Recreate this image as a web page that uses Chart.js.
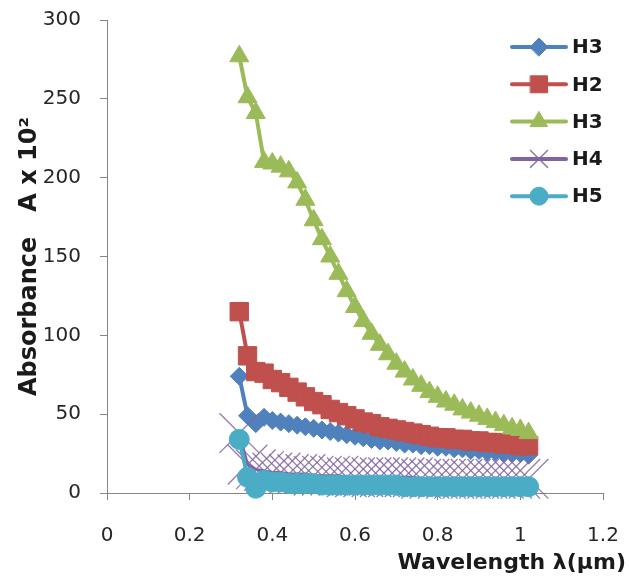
<!DOCTYPE html>
<html><head><meta charset="utf-8">
<script src="https://cdn.jsdelivr.net/npm/chart.js@4.4.0/dist/chart.umd.min.js"></script>
<style>html,body{margin:0;padding:0;background:#fff;}#wrap{width:629px;height:576px;}</style>
</head><body><div id="wrap"><canvas id="c" width="629" height="576"></canvas></div>
<script>
const wavelength = [0.32,0.34,0.36,0.38,0.40,0.42,0.44,0.46,0.48,0.50,0.52,0.54,0.56,0.58,0.60,0.62,0.64,0.66,0.68,0.70,0.72,0.74,0.76,0.78,0.80,0.82,0.84,0.86,0.88,0.90,0.92,0.94,0.96,0.98,1.00,1.02];
const h3a = [74,49,44,48,46,45,44,43,42,41,40,39,38,37,36,35,34,33,33,32,31,31,30,30,29,29,28,28,27,27,26,26,25,25,25,24];
const h2  = [115,87,77,76,72,70,67,64,61,58,56,53,51,49,47,45,44,42,41,40,39,38,37,36,35,35,34,34,33,33,32,32,31,31,30,30];
const h3b = [277,251,241,210,209,207,204,197,186,173,161,150,139,128,118,109,101,94,88,82,77,72,68,64,61,58,56,53,51,49,47,45,43,41,40,38];
const h4  = [38,18,15,14,13,13,12,12,12,11,11,11,11,10,10,10,10,10,10,10,10,10,9,9,9,9,9,9,9,9,9,9,9,9,9,9];
const h5  = [34,10,3,8,7,7,6,6,6,6,5,5,5,5,5,5,5,5,5,5,4,4,4,4,4,4,4,4,4,4,4,4,4,4,4,4];
const seriesNames = ['H3','H2','H3','H4','H5'];
const xTickLabels = ['0','0.2','0.4','0.6','0.8','1','1.2'];
const yTickLabels = ['0','50','100','150','200','250','300'];
const xTitle = 'Wavelength λ(µm)';
const yTitle = 'Absorbance   A x 10²';

const seriesValues = [h3a, h2, h3b, h4, h5];
const colors = ['#4F81BD','#C0504D','#9BBB59','#8064A2','#4BACC6'];
const styles = ['rectRot','rect','triangle','crossRot','circle'];
const radii = [9, 13, 11, 28, 10];
const legendRadii = [9, 12, 10, 12, 9];

const datasets = seriesValues.map((vals, i) => ({
  label: seriesNames[i],
  data: wavelength.map((x, j) => ({x: x, y: vals[j]})),
  borderColor: colors[i],
  backgroundColor: colors[i],
  borderWidth: i === 3 ? 3 : 4,
  pointStyle: styles[i],
  pointRadius: radii[i],
  pointBackgroundColor: colors[i],
  pointBorderColor: i === 3 ? 'rgba(128,100,162,0.85)' : colors[i],
  pointBorderWidth: i === 3 ? 1.3 : 1,
  tension: 0,
  clip: false,
  order: 4 - i
}));

const FONT = '"DejaVu Sans", sans-serif';

const extras = {
  id: 'extras',
  afterDraw(chart) {
    const ctx = chart.ctx;
    ctx.save();
    chart.data.datasets.forEach((ds, i) => {
      const y = 47 + i * 37.3;
      ctx.strokeStyle = ds.borderColor;
      ctx.lineWidth = 4;
      ctx.lineCap = 'round';
      ctx.beginPath(); ctx.moveTo(512, y); ctx.lineTo(566, y); ctx.stroke();
      ctx.fillStyle = ds.borderColor;
      ctx.strokeStyle = i === 3 ? 'rgba(128,100,162,0.85)' : ds.borderColor;
      ctx.lineWidth = i === 3 ? 1.5 : 1;
      Chart.helpers.drawPoint(ctx, {pointStyle: ds.pointStyle, radius: legendRadii[i], borderWidth: ctx.lineWidth, rotation: 0}, 539, y);
      ctx.fillStyle = '#1a1a1a';
      ctx.font = 'bold 20px ' + FONT;
      ctx.textBaseline = 'middle';
      ctx.textAlign = 'left';
      ctx.fillText(ds.label, 572, y + 1);
    });
    ctx.fillStyle = '#1a1a1a';
    ctx.font = 'bold 22px ' + FONT;
    ctx.textAlign = 'right';
    ctx.textBaseline = 'middle';
    ctx.fillText(xTitle, 626, 563);
    ctx.restore();
  }
};

new Chart(document.getElementById('c'), {
  type: 'line',
  data: { datasets },
  options: {
    responsive: false,
    animation: false,
    devicePixelRatio: 1,
    events: [],
    layout: { autoPadding: false, padding: { left: 0, right: 26, top: 20, bottom: 0 } },
    plugins: { legend: { display: false }, tooltip: { enabled: false } },
    scales: {
      x: {
        type: 'linear', min: 0, max: 1.2,
        afterFit(s) { s.height = 83; s.paddingLeft = 0; s.paddingRight = 0; },
        ticks: { stepSize: 0.2, color: '#262626', padding: 24, font: { family: FONT, size: 20 },
          callback: (v, i) => xTickLabels[i] },
        grid: { drawOnChartArea: false, drawTicks: true, tickLength: 7, color: '#868686' },
        border: { color: '#868686', width: 1 }
      },
      y: {
        type: 'linear', min: 0, max: 300,
        afterFit(s) { s.width = 107; s.paddingTop = 0; s.paddingBottom = 0; },
        ticks: { stepSize: 50, color: '#262626', padding: 19, font: { family: FONT, size: 20 },
          callback: (v, i) => yTickLabels[i] },
        grid: { drawOnChartArea: false, drawTicks: true, tickLength: 7, color: '#868686' },
        border: { color: '#868686', width: 1 },
        title: { display: true, text: yTitle, color: '#1a1a1a', font: { family: FONT, size: 24, weight: 'bold' }, padding: { top: 15, bottom: 0 } }
      }
    }
  },
  plugins: [extras]
});
</script></body></html>
